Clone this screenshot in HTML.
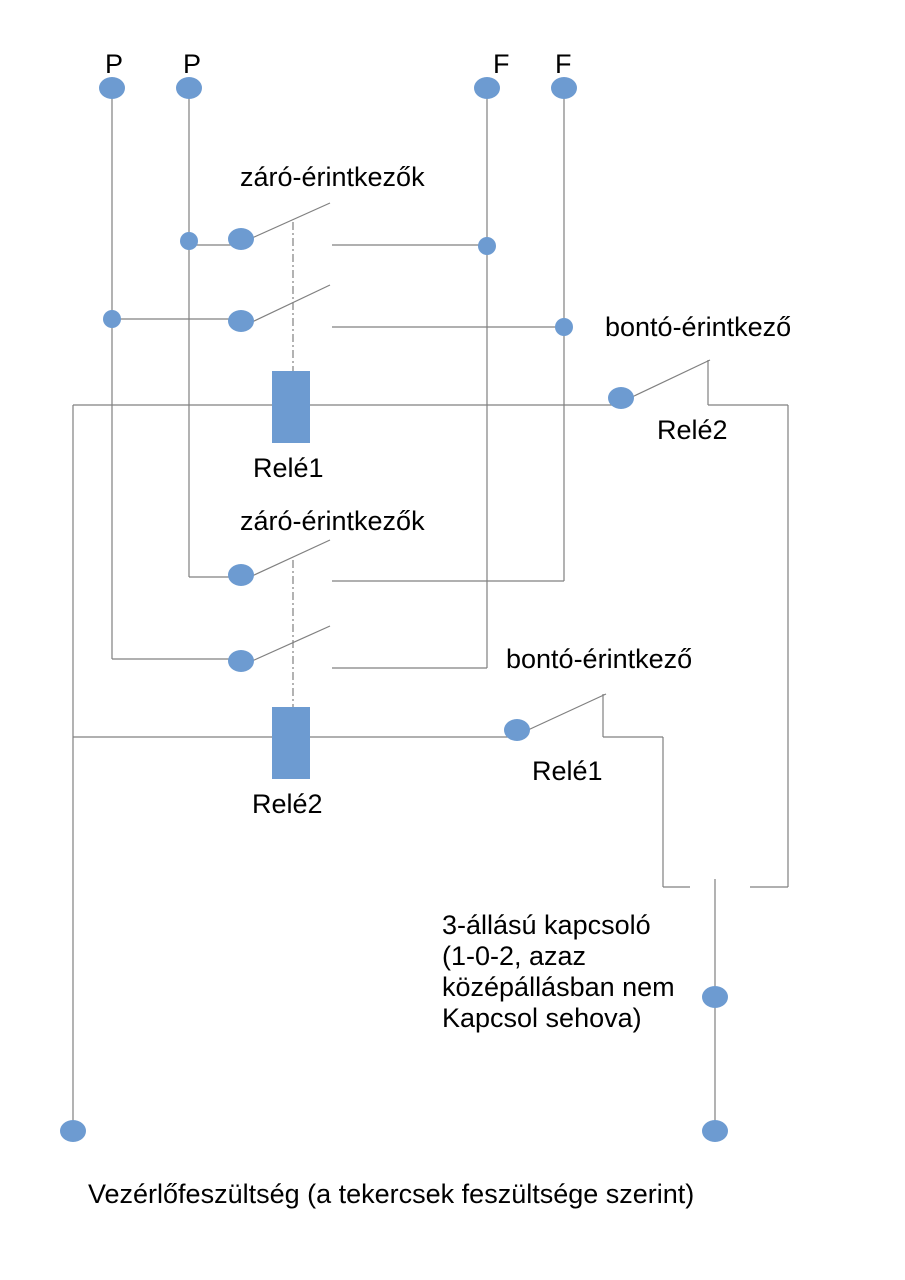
<!DOCTYPE html>
<html><head><meta charset="utf-8"><style>
html,body{margin:0;padding:0;background:#fff;}
svg{display:block;}
text{font-family:"Liberation Sans",sans-serif;fill:#000;}
</style></head><body>
<svg width="905" height="1280" viewBox="0 0 905 1280" xmlns="http://www.w3.org/2000/svg">
<g stroke="#808080" stroke-width="1.2" fill="none">
<line x1="112" y1="88" x2="112" y2="659"/>
<line x1="189" y1="88" x2="189" y2="577"/>
<line x1="487" y1="88" x2="487" y2="668"/>
<line x1="564" y1="88" x2="564" y2="581"/>
<line x1="189" y1="245" x2="241" y2="245"/>
<line x1="332" y1="245" x2="487" y2="245"/>
<line x1="112" y1="319" x2="241" y2="319"/>
<line x1="332" y1="327" x2="564" y2="327"/>
<line x1="73" y1="405" x2="612" y2="405"/>
<line x1="708" y1="360" x2="708" y2="405"/>
<line x1="708" y1="405" x2="788" y2="405"/>
<line x1="788" y1="405" x2="788" y2="887"/>
<line x1="750" y1="887" x2="788" y2="887"/>
<line x1="73" y1="405" x2="73" y2="1130"/>
<line x1="189" y1="577" x2="241" y2="577"/>
<line x1="332" y1="581" x2="564" y2="581"/>
<line x1="112" y1="659" x2="241" y2="659"/>
<line x1="332" y1="668" x2="487" y2="668"/>
<line x1="73" y1="737" x2="510" y2="737"/>
<line x1="603" y1="694" x2="603" y2="737"/>
<line x1="603" y1="737" x2="663" y2="737"/>
<line x1="663" y1="737" x2="663" y2="887"/>
<line x1="663" y1="887" x2="690" y2="887"/>
<line x1="715" y1="879" x2="715" y2="1130"/>
<line x1="252" y1="238" x2="330" y2="203"/>
<line x1="252" y1="322" x2="330" y2="285"/>
<line x1="632" y1="397" x2="710" y2="360"/>
<line x1="252" y1="576" x2="330" y2="540"/>
<line x1="252" y1="661" x2="330" y2="626"/>
<line x1="528" y1="730" x2="606" y2="694"/>
<line x1="293" y1="222" x2="293" y2="375" stroke-dasharray="8,3,2,3"/>
<line x1="293" y1="560" x2="293" y2="708" stroke-dasharray="8,3,2,3"/>
</g>
<g fill="#6d9bd1">
<ellipse cx="112" cy="88" rx="13" ry="11"/>
<ellipse cx="189" cy="88" rx="13" ry="11"/>
<ellipse cx="487" cy="88" rx="13" ry="11"/>
<ellipse cx="564" cy="88" rx="13" ry="11"/>
<circle cx="189" cy="241" r="9"/>
<ellipse cx="241" cy="239" rx="13" ry="11"/>
<circle cx="487" cy="246" r="9"/>
<circle cx="112" cy="319" r="9"/>
<ellipse cx="241" cy="321" rx="13" ry="11"/>
<circle cx="564" cy="327" r="9"/>
<rect x="272" y="371" width="38" height="72"/>
<ellipse cx="621" cy="398" rx="13" ry="11"/>
<ellipse cx="241" cy="575" rx="13" ry="11"/>
<ellipse cx="241" cy="661" rx="13" ry="11"/>
<rect x="272" y="707" width="38" height="72"/>
<ellipse cx="517" cy="730" rx="13" ry="11"/>
<ellipse cx="715" cy="997" rx="13" ry="11"/>
<ellipse cx="715" cy="1131" rx="13" ry="11"/>
<ellipse cx="73" cy="1131" rx="13" ry="11"/>
</g>
<g font-size="27">
<text x="105" y="73">P</text>
<text x="183" y="73">P</text>
<text x="493" y="73">F</text>
<text x="555" y="73">F</text>
<text x="240" y="186">záró-érintkezők</text>
<text x="605" y="336">bontó-érintkező</text>
<text x="253" y="477">Relé1</text>
<text x="657" y="439">Relé2</text>
<text x="240" y="530">záró-érintkezők</text>
<text x="506" y="668">bontó-érintkező</text>
<text x="532" y="780">Relé1</text>
<text x="252" y="813">Relé2</text>
<text x="442" y="934">3-állású kapcsoló</text>
<text x="442" y="965">(1-0-2, azaz</text>
<text x="442" y="996">középállásban nem</text>
<text x="442" y="1027">Kapcsol sehova)</text>
<text x="88" y="1203">Vezérlőfeszültség (a tekercsek feszültsége szerint)</text>
</g>
</svg>
</body></html>
